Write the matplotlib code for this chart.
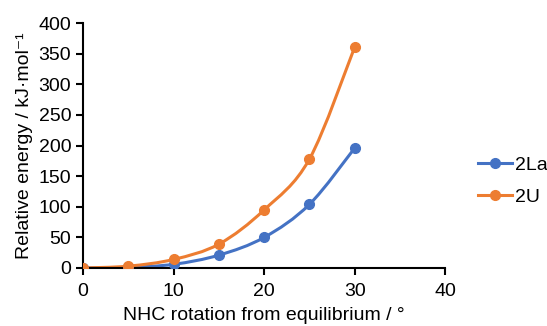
import matplotlib.pyplot as plt
import numpy as np
from matplotlib.path import Path
from matplotlib.patches import PathPatch

plt.rcParams['font.family'] = ['Liberation Sans', 'DejaVu Sans']

rotation = [0, 5, 10, 15, 20, 25, 30]
energy_2La = [0, 1, 6, 21, 50, 104, 196]
energy_2U = [0, 3, 14, 39, 95, 178, 361]
series_names = ["2La", "2U"]
colors = ["#4472C4", "#ED7D31"]


def smooth_path(x, y, t=1/6):
    # Excel-style smoothed line: cubic Bezier segments through the points
    x = np.asarray(x, float)
    y = np.asarray(y, float)
    n = len(x)
    verts = [(x[0], y[0])]
    codes = [Path.MOVETO]
    for i in range(n - 1):
        x0, y0 = (x[i - 1], y[i - 1]) if i > 0 else (x[i], y[i])
        x3, y3 = (x[i + 2], y[i + 2]) if i + 2 < n else (x[i + 1], y[i + 1])
        c1 = (x[i] + (x[i + 1] - x0) * t, y[i] + (y[i + 1] - y0) * t)
        c2 = (x[i + 1] - (x3 - x[i]) * t, y[i + 1] - (y3 - y[i]) * t)
        verts += [c1, c2, (x[i + 1], y[i + 1])]
        codes += [Path.CURVE4] * 3
    return Path(verts, codes)


fig = plt.figure(figsize=(5.47, 3.26), dpi=100)
ax = fig.add_axes([0.152, 0.178, 0.662, 0.751])

for ys, c in zip([energy_2La, energy_2U], colors):
    ax.add_patch(PathPatch(smooth_path(rotation, ys), fill=False, edgecolor=c, lw=2.2, zorder=2))
    ax.plot(rotation, ys, color=c, marker='o', markersize=7, linestyle='None', zorder=3)

leg_lines = [plt.Line2D([], [], color=c, lw=2.2, marker='o', markersize=7) for c in colors]
ax.legend(leg_lines, series_names, loc='center left', bbox_to_anchor=(1.09, 0.355),
          frameon=False, fontsize=14, handlelength=1.75, handletextpad=0.15,
          labelspacing=0.75, borderpad=0, borderaxespad=0)

ax.set_xlim(0, 40)
ax.set_ylim(0, 400)
ax.set_xticks(range(0, 41, 10))
ax.set_yticks(range(0, 401, 50))
ax.tick_params(labelsize=14, width=1.5, length=5, color='black')
ax.tick_params(axis='x', direction='out', pad=6)
for s in ['top', 'right']:
    ax.spines[s].set_visible(False)
for s in ['left', 'bottom']:
    ax.spines[s].set_linewidth(1.5)
ax.set_xlabel('NHC rotation from equilibrium / °', fontsize=14, labelpad=5)
ax.set_ylabel('Relative energy / kJ·mol⁻¹', fontsize=14, labelpad=4)

fig.savefig('out.png', dpi=100)
